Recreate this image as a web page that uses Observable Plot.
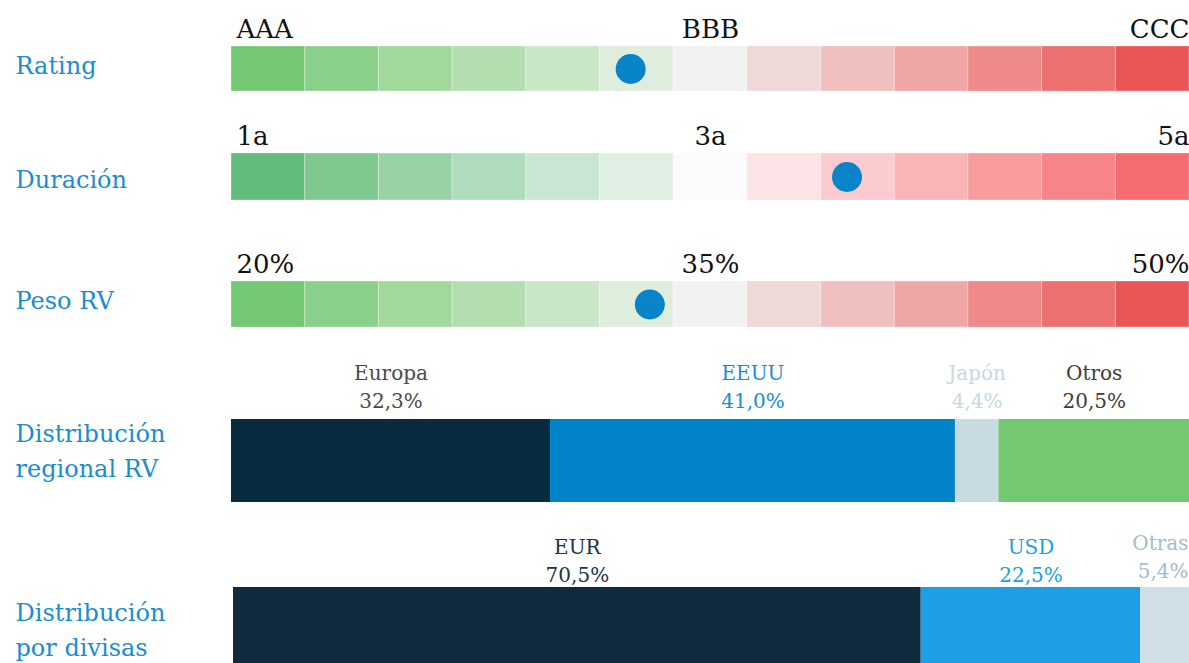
<!DOCTYPE html>
<html>
<head>
<meta charset="utf-8">
<script src="https://cdn.jsdelivr.net/npm/d3@7"></script>
<script src="https://cdn.jsdelivr.net/npm/@observablehq/plot@0.6"></script>
<style>
  html, body { margin: 0; padding: 0; background: #fff; overflow: hidden; }
  #chart { position: relative; width: 1189px; height: 663px; overflow: hidden; }
  #chart svg { position: absolute; left: 0; overflow: hidden; }
</style>
</head>
<body>
<div id="chart"></div>
<script>
// ---------------- DATA ----------------
const ratingLabel = "Rating";
const ratingTicks = ["AAA", "BBB", "CCC"];
const ratingDomain = [0, 12];          // notch index: AAA = 0 ... BBB = 6 ... CCC = 12
const ratingValue = 5.0;

const durationLabel = "Duración";
const durationTicks = ["1a", "3a", "5a"];
const durationDomain = [1, 5];         // years
const durationValue = 3.57;

const pesoLabel = "Peso RV";
const pesoTicks = ["20%", "35%", "50%"];
const pesoDomain = [20, 50];           // % equity weight
const pesoValue = 33.1;

const regionLabel = "Distribución\nregional RV";
const regionNames = ["Europa", "EEUU", "Japón", "Otros"];
const regionValues = [32.3, 41.0, 4.4, 20.5];
const regionVisibleMax = 97.0;

const currencyLabel = "Distribución\npor divisas";
const currencyNames = ["EUR", "USD", "Otras"];
const currencyValues = [70.5, 22.5, 5.4];
const currencyVisibleMax = 98.0;

// ---------------- STYLES ----------------
const FONT = "DejaVu Serif";
const labelBlue = "#1a8dcf";
const dotColor = "#0a84c8";
const paletteA = ["#74c874", "#8bd08a", "#a0d99b", "#b3dfb0", "#c9e6c8", "#dfeddd", "#f2f2f2",
                  "#efd8d8", "#f0bfbf", "#eea6a6", "#ee8a8a", "#ec7070", "#ea5656"];
const paletteB = ["#62bd7b", "#7fc990", "#98d3a6", "#afdcbd", "#c9e6d3", "#e0f0e5", "#fbfbfd",
                  "#fce3e6", "#fbcbcf", "#f9b4b7", "#f89c9e", "#f78488", "#f66c70"];
const regionBarColors = ["#082b40", "#0083c8", "#c8dae2", "#74c872"];
const regionTextColors = ["#4a4a4a", "#1a8dcf", "#c8d8e0", "#3c3c3c"];
const currencyBarColors = ["#0f2a3f", "#1c9fe4", "#d0dfe7"];
const currencyTextColors = ["#1e3347", "#1c9fe4", "#a4bccb"];

const chart = document.getElementById("chart");
const fmt = v => v.toFixed(1).replace(".", ",") + "%";

function place(svg, top) {
  svg.style.top = top + "px";
  svg.style.position = "absolute";
  svg.style.overflow = "hidden";
  chart.appendChild(svg);
}

function gradientRow({label, ticks, domain, value, palette, top, height, marginTop, marginBottom, labelDy}) {
  const [lo, hi] = domain;
  const step = (hi - lo) / palette.length;
  const cells = palette.map((c, i) => ({x1: lo + i * step, x2: lo + (i + 1) * step, c}));
  const tickPos = [lo, (lo + hi) / 2, hi];
  const anchors = ["start", "middle", "end"];
  const tickMarks = ticks.map((t, i) =>
    Plot.text([t], {
      x: () => tickPos[i], text: d => d, frameAnchor: "top", lineAnchor: "bottom",
      textAnchor: anchors[i], dy: -9, dx: i === 0 ? 5 : 0, fontSize: 26, fill: "#111"
    })
  );
  const svg = Plot.plot({
    width: 1189, height, marginLeft: 231, marginRight: 0, marginTop, marginBottom,
    x: {domain, axis: null},
    color: {type: "identity"},
    style: {fontFamily: FONT, background: "white"},
    marks: [
      Plot.rectX(cells, {x1: "x1", x2: "x2", fill: "c", stroke: "white", strokeOpacity: 0.3, strokeWidth: 1}),
      Plot.dot([value], {x: d => d, r: 15, fill: dotColor}),
      ...tickMarks,
      Plot.text([label], {text: d => d, frameAnchor: "left", textAnchor: "start", dx: -216, dy: labelDy,
                          fontSize: 24, fill: labelBlue})
    ]
  });
  place(svg, top);
}

function stackRow({label, names, values, barColors, textColors, visibleMax, top, height, marginTop, marginBottom,
                   marginLeft, labelDy, textDy, lastAtEdge = false, lastDy = textDy}) {
  const ends = d3.cumsum(values);
  const segs = names.map((n, i) => ({
    name: n, x1: ends[i] - values[i], x2: ends[i],
    bar: barColors[i], txt: textColors[i], label: n + "\n" + fmt(values[i])
  }));
  const centered = lastAtEdge ? segs.slice(0, -1) : segs;
  const edge = lastAtEdge ? segs.slice(-1) : [];
  const svg = Plot.plot({
    width: 1189, height, marginLeft, marginRight: 0, marginTop, marginBottom,
    x: {domain: [0, visibleMax], axis: null},
    color: {type: "identity"},
    style: {fontFamily: FONT, background: "white"},
    marks: [
      Plot.barX(segs, {x1: "x1", x2: "x2", fill: "bar", clip: true}),
      Plot.text(centered, {
        x: d => (d.x1 + Math.min(d.x2, visibleMax)) / 2, text: "label",
        frameAnchor: "top", lineAnchor: "bottom", dy: textDy, fill: "txt",
        fontSize: 20, lineHeight: 1.37
      }),
      Plot.text(edge, {
        x: () => visibleMax, text: "label", textAnchor: "end", dx: -1,
        frameAnchor: "top", lineAnchor: "bottom", dy: lastDy, fill: "txt",
        fontSize: 20, lineHeight: 1.37
      }),
      Plot.text([label], {text: d => d, frameAnchor: "left", textAnchor: "start", dx: 15 - marginLeft, dy: labelDy,
                          fontSize: 24, lineHeight: 1.45, fill: labelBlue})
    ]
  });
  place(svg, top);
}

gradientRow({label: ratingLabel, ticks: ratingTicks, domain: ratingDomain, value: ratingValue, palette: paletteA,
             top: 0, height: 100, marginTop: 46, marginBottom: 9, labelDy: -3});
gradientRow({label: durationLabel, ticks: durationTicks, domain: durationDomain, value: durationValue, palette: paletteB,
             top: 107, height: 100, marginTop: 46, marginBottom: 7, labelDy: 3});
gradientRow({label: pesoLabel, ticks: pesoTicks, domain: pesoDomain, value: pesoValue, palette: paletteA,
             top: 235, height: 100, marginTop: 46, marginBottom: 8, labelDy: -3});
stackRow({label: regionLabel, names: regionNames, values: regionValues, barColors: regionBarColors,
          textColors: regionTextColors, visibleMax: regionVisibleMax,
          top: 340, height: 170, marginTop: 79, marginBottom: 8, marginLeft: 231, labelDy: -13, textDy: -12});
stackRow({label: currencyLabel, names: currencyNames, values: currencyValues, barColors: currencyBarColors,
          textColors: currencyTextColors, visibleMax: currencyVisibleMax,
          top: 510, height: 153, marginTop: 77, marginBottom: 0, marginLeft: 233, labelDy: 2, textDy: -6,
          lastAtEdge: true, lastDy: -10});
</script>
</body>
</html>
